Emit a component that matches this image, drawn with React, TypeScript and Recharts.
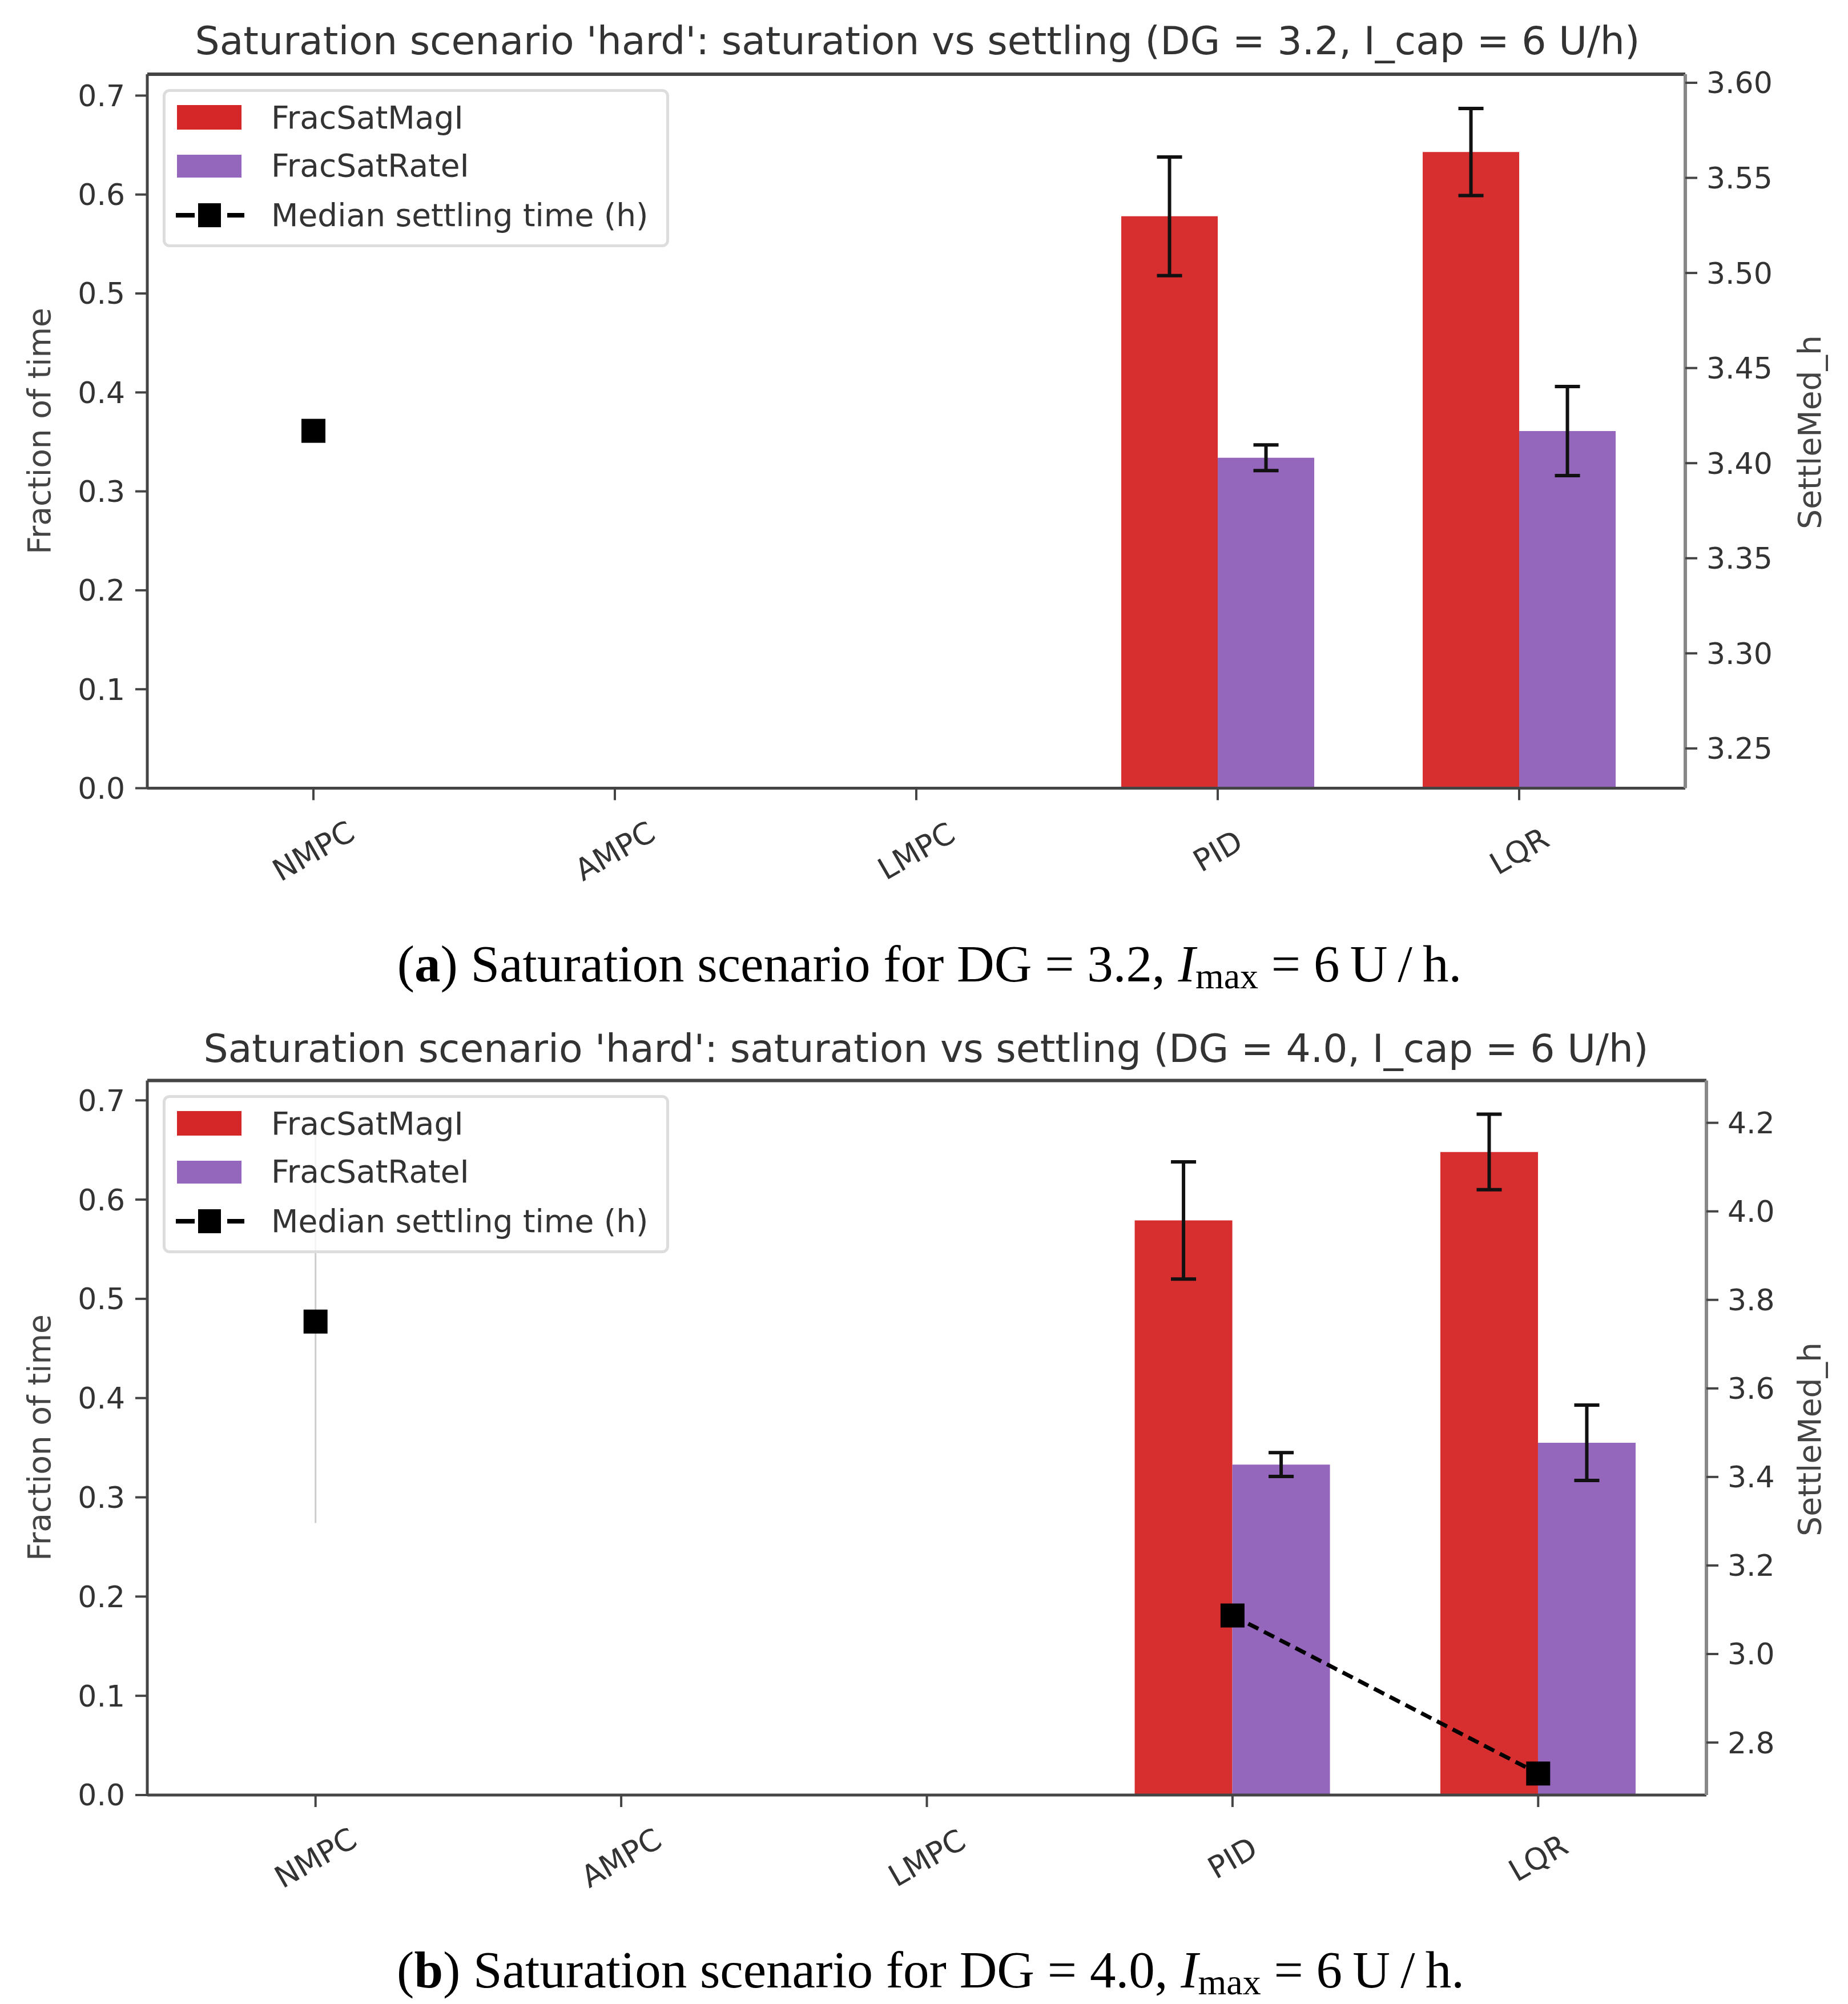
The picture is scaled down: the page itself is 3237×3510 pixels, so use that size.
import { Bar, ComposedChart, ErrorBar, Line, ReferenceLine, XAxis, YAxis } from "recharts";

const controllers = ["NMPC", "AMPC", "LMPC", "PID", "LQR"];

// panel (a): DG = 3.2
const fracMagA = [0, 0, 0, 0.578, 0.643];
const fracMagErrA = [0, 0, 0, 0.06, 0.044];
const fracRateA = [0, 0, 0, 0.334, 0.361];
const fracRateErrA = [0, 0, 0, 0.013, 0.045];
const settleA = [3.417, null, null, null, null];
const settleErrA = [null, null, null, null, null];

// panel (b): DG = 4.0
const fracMagB = [0, 0, 0, 0.579, 0.648];
const fracMagErrB = [0, 0, 0, 0.059, 0.038];
const fracRateB = [0, 0, 0, 0.333, 0.355];
const fracRateErrB = [0, 0, 0, 0.012, 0.038];
const settleB = [3.751, null, null, 3.087, 2.73];
const settleErrB = [0.455, null, null, null, null];

const fracTicks = [0, 0.1, 0.2, 0.3, 0.4, 0.5, 0.6, 0.7];
const settleTicksA = [3.25, 3.3, 3.35, 3.4, 3.45, 3.5, 3.55, 3.6];
const settleTicksB = [2.8, 3.0, 3.2, 3.4, 3.6, 3.8, 4.0, 4.2];

const FONT = "'DejaVu Sans', sans-serif";
const SERIF = "'Liberation Serif', 'DejaVu Serif', serif";
const RED = "#d62728";
const PURPLE = "#9467bd";

function buildRows(
  mag: number[],
  magErr: number[],
  rate: number[],
  rateErr: number[],
  settle: (number | null)[],
  settleErr: (number | null)[],
) {
  return controllers.map((name, i) => ({
    name,
    mag: mag[i],
    magErr: mag[i] > 0 ? magErr[i] : null,
    rate: rate[i],
    rateErr: rate[i] > 0 ? rateErr[i] : null,
    settle: settle[i],
    settleErr: settleErr[i],
  }));
}

function SquareDot(props: any) {
  const { cx, cy, value } = props;
  if (cx == null || cy == null || value == null) return <g />;
  return <rect x={cx - 21} y={cy - 21} width={42} height={42} fill="#000" />;
}

function RotatedTick({ x, y, payload }: any) {
  const cy = y + 87;
  return (
    <text
      x={x}
      y={cy}
      transform={`rotate(-30 ${x} ${cy})`}
      textAnchor="middle"
      dominantBaseline="central"
      fontFamily={FONT}
      fontSize={53}
      fill="#333"
    >
      {payload.value}
    </text>
  );
}

function Label({ x, y, children, size = 55, rotate = 0, color = "#333", family = FONT }: any) {
  return (
    <div
      style={{
        position: "absolute",
        left: x,
        top: y,
        transform: `translate(-50%, -50%) rotate(${rotate}deg)`,
        whiteSpace: "nowrap",
        fontFamily: family,
        fontSize: size,
        lineHeight: 1,
        color,
      }}
    >
      {children}
    </div>
  );
}

function LegendBox({ left, top }: { left: number; top: number }) {
  const text = { position: "absolute" as const, left: 185, transform: "translateY(-50%)", lineHeight: 1 };
  return (
    <div
      style={{
        position: "absolute",
        left,
        top,
        width: 887,
        height: 277,
        border: "5px solid #ddd",
        borderRadius: 12,
        boxSizing: "border-box",
        background: "rgba(255,255,255,0.8)",
        fontFamily: FONT,
        fontSize: 55,
        color: "#333",
        whiteSpace: "nowrap",
      }}
    >
      <div style={{ position: "absolute", left: 20, top: 23, width: 113, height: 43, background: RED }} />
      <div style={{ ...text, top: 45 }}>FracSatMagI</div>
      <div style={{ position: "absolute", left: 20, top: 110, width: 113, height: 40, background: PURPLE }} />
      <div style={{ ...text, top: 129 }}>FracSatRateI</div>
      <div style={{ position: "absolute", left: 18, top: 212, width: 33, height: 8, background: "#000" }} />
      <div style={{ position: "absolute", left: 57, top: 195, width: 40, height: 42, background: "#000" }} />
      <div style={{ position: "absolute", left: 108, top: 212, width: 30, height: 8, background: "#000" }} />
      <div style={{ ...text, top: 216 }}>Median settling time (h)</div>
    </div>
  );
}

function Caption({ x, y, letter, dg }: { x: number; y: number; letter: string; dg: string }) {
  return (
    <Label x={x} y={y} size={91} color="#000" family={SERIF}>
      (<b>{letter}</b>) Saturation scenario for DG = {dg}, <i>I</i>
      <span style={{ fontSize: 64, position: "relative", top: 12 }}>max</span>
      {" = 6\u2009U\u2009/\u2009h."}
    </Label>
  );
}

function Panel({ rows, margin, settleDomain, settleTicks, settleDigits, fracMax }: any) {
  return (
    <ComposedChart
      width={3237}
      height={1600}
      data={rows}
      margin={margin}
      barCategoryGap="18%"
      barGap={0}
    >
      <XAxis
        dataKey="name"
        type="category"
        padding={{ left: 27, right: 27 }}
        height={200}
        axisLine={{ stroke: "#444", strokeWidth: 5 }}
        tickLine={{ stroke: "#444", strokeWidth: 4 }}
        tickSize={21}
        tick={<RotatedTick />}
        interval={0}
      />
      <YAxis
        yAxisId="left"
        width={200}
        domain={[0, fracMax]}
        ticks={fracTicks}
        allowDataOverflow
        tickFormatter={(v: number) => v.toFixed(1)}
        axisLine={{ stroke: "#444", strokeWidth: 5 }}
        tickLine={{ stroke: "#444", strokeWidth: 4 }}
        tickSize={21}
        tickMargin={18}
        tick={{ fontFamily: FONT, fontSize: 52, fill: "#333" }}
      />
      <YAxis
        yAxisId="right"
        orientation="right"
        width={200}
        domain={settleDomain}
        ticks={settleTicks}
        allowDataOverflow
        tickFormatter={(v: number) => v.toFixed(settleDigits)}
        axisLine={{ stroke: "#888", strokeWidth: 6 }}
        tickLine={{ stroke: "#444", strokeWidth: 4 }}
        tickSize={21}
        tickMargin={16}
        tick={{ fontFamily: FONT, fontSize: 52, fill: "#333" }}
      />
      <ReferenceLine yAxisId="left" y={fracMax} stroke="#444" strokeWidth={6} ifOverflow="visible" />
      <Bar yAxisId="left" dataKey="mag" fill={RED} fillOpacity={0.97} isAnimationActive={false}>
        <ErrorBar dataKey="magErr" width={22} stroke="#111" strokeWidth={6} isAnimationActive={false} />
      </Bar>
      <Bar yAxisId="left" dataKey="rate" fill={PURPLE} isAnimationActive={false}>
        <ErrorBar dataKey="rateErr" width={22} stroke="#111" strokeWidth={6} isAnimationActive={false} />
      </Bar>
      <Line
        yAxisId="right"
        type="linear"
        dataKey="settle"
        stroke="#000"
        strokeWidth={7}
        strokeDasharray="20 11"
        connectNulls={false}
        dot={<SquareDot />}
        activeDot={false}
        isAnimationActive={false}
      >
        <ErrorBar dataKey="settleErr" width={0} stroke="#ccc" strokeWidth={3} isAnimationActive={false} />
      </Line>
    </ComposedChart>
  );
}

export default function App() {
  const rowsA = buildRows(fracMagA, fracMagErrA, fracRateA, fracRateErrA, settleA, settleErrA);
  const rowsB = buildRows(fracMagB, fracMagErrB, fracRateB, fracRateErrB, settleB, settleErrB);
  return (
    <div style={{ position: "absolute", left: 0, top: 0, width: 3237, height: 3510, background: "#fff", overflow: "hidden" }}>
      <div style={{ position: "absolute", left: 0, top: 0, width: 3237, height: 1750 }}>
        <Panel
          rows={rowsA}
          margin={{ top: 130, right: 85, bottom: 19.5, left: 58 }}
          settleDomain={[3.2291, 3.6045]}
          settleTicks={settleTicksA}
          settleDigits={2}
          fracMax={0.7216}
        />
        <Label x={1607} y={72} size={68}>
          Saturation scenario 'hard': saturation vs settling (DG = 3.2, I_cap = 6 U/h)
        </Label>
        <Label x={69} y={755} rotate={-90} color="#444">Fraction of time</Label>
        <Label x={3170} y={757} rotate={-90} color="#444">SettleMed_h</Label>
        <LegendBox left={285} top={156} />
        <Caption x={1628} y={1688} letter="a" dg="3.2" />
      </div>
      <div style={{ position: "absolute", left: 0, top: 1750, width: 3237, height: 1760 }}>
        <Panel
          rows={rowsB}
          margin={{ top: 142.5, right: 48, bottom: 6, left: 58 }}
          settleDomain={[2.6814, 4.2956]}
          settleTicks={settleTicksB}
          settleDigits={1}
          fracMax={0.72}
        />
        <Label x={1622} y={87} size={68}>
          Saturation scenario 'hard': saturation vs settling (DG = 4.0, I_cap = 6 U/h)
        </Label>
        <Label x={69} y={768} rotate={-90} color="#444">Fraction of time</Label>
        <Label x={3170} y={771} rotate={-90} color="#444">SettleMed_h</Label>
        <LegendBox left={285} top={168} />
        <Caption x={1630} y={1700} letter="b" dg="4.0" />
      </div>
    </div>
  );
}
